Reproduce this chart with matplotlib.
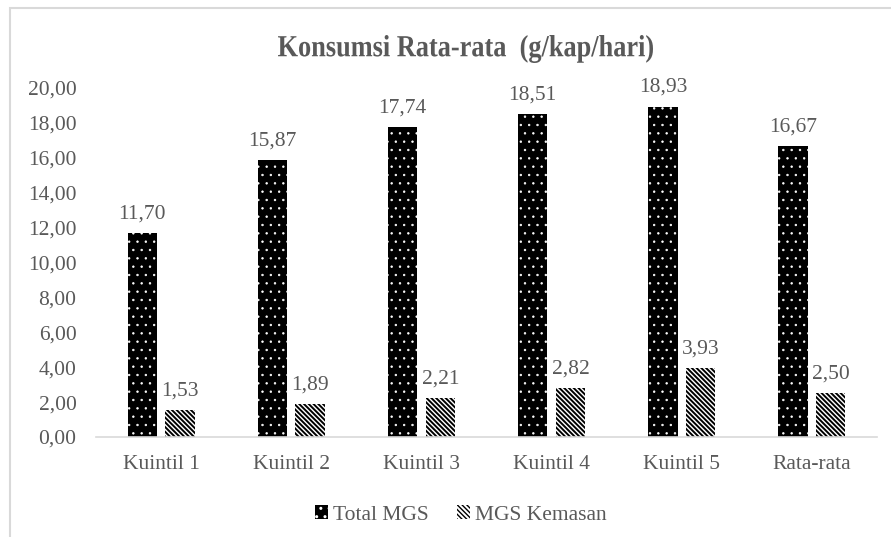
import matplotlib
matplotlib.use("Agg")
import matplotlib.pyplot as plt
from matplotlib.patches import Rectangle, PathPatch
from matplotlib.textpath import TextPath
from matplotlib.font_manager import FontProperties
from matplotlib.transforms import Affine2D, IdentityTransform
import numpy as np

# Average consumption per quintile (g/kap/hari)
categories = ["Kuintil 1", "Kuintil 2", "Kuintil 3", "Kuintil 4", "Kuintil 5", "Rata-rata"]
total_mgs = [11.70, 15.87, 17.74, 18.51, 18.93, 16.67]
mgs_kemasan = [1.53, 1.89, 2.21, 2.82, 3.93, 2.50]
y_ticks = [0, 2, 4, 6, 8, 10, 12, 14, 16, 18, 20]
title = "Konsumsi Rata-rata  (g/kap/hari)"

plt.rcParams["font.family"] = ["Liberation Serif", "DejaVu Serif"]
text_color = "#595959"
fs = 15.5

W, H = 891, 537
fig = plt.figure(figsize=(W / 100, H / 100), dpi=100)
fig.patch.set_facecolor("white")

# chart frame
fig.patches.append(Rectangle((10 / W, -0.05), 1.2, 1 - 8 / H + 0.05,
                             transform=fig.transFigure, fill=False,
                             edgecolor="#d9d9d9", linewidth=1.5, zorder=0))

ax = fig.add_axes([96 / W, 1 - 437 / H, 781 / W, 349 / H])
x = np.arange(len(categories))
w = 0.225
off = 0.145

with plt.rc_context({"hatch.linewidth": 0.5}):
    bars_total = ax.bar(x - off, total_mgs, width=w, facecolor="black",
                        edgecolor="white", linewidth=0, hatch="..",
                        label="Total MGS")
with plt.rc_context({"hatch.linewidth": 1.4}):
    bars_kem = ax.bar(x + off, mgs_kemasan, width=w, facecolor="white",
                      edgecolor="black", linewidth=0, hatch="\\" * 7,
                      label="MGS Kemasan")
for b in bars_total:
    if hasattr(b, "set_hatch_linewidth"):
        b.set_hatch_linewidth(0.5)
for b in bars_kem:
    if hasattr(b, "set_hatch_linewidth"):
        b.set_hatch_linewidth(1.4)

def fmt(v):
    return f"{v:.2f}".replace(".", ",")

for bars, vals in ((bars_total, total_mgs), (bars_kem, mgs_kemasan)):
    for b, v in zip(bars, vals):
        ax.annotate(fmt(v), (b.get_x() + b.get_width() / 2, v), xytext=(0, 7),
                    textcoords="offset points", ha="center", va="bottom",
                    fontsize=fs, color=text_color, annotation_clip=False)

ax.set_xlim(-0.5, len(categories) - 0.5)
ax.set_ylim(0, 20)
ax.set_yticks(y_ticks)
ax.set_yticklabels([fmt(t) for t in y_ticks], fontsize=fs, color=text_color)
ax.set_xticks(x)
ax.set_xticklabels(categories, fontsize=fs, color=text_color)
ax.tick_params(axis="both", length=0)
ax.tick_params(axis="y", pad=14)
ax.tick_params(axis="x", pad=13)
for s in ["top", "right", "left"]:
    ax.spines[s].set_visible(False)
ax.spines["bottom"].set_color("#d9d9d9")
ax.spines["bottom"].set_linewidth(1.2)

# condensed bold title, fitted into its box in pixel space
tp = TextPath((0, 0), title, size=100,
              prop=FontProperties(family="Liberation Serif", weight="bold"))
ext = tp.get_extents()
x0, x1, ytop, ybot = 278, 653, 35, 63
sx = (x1 - x0) / ext.width
sy = (ybot - ytop) / ext.height
tr = (Affine2D().translate(-ext.x0, -ext.y0).scale(sx, sy)
      .translate(x0, H - ybot) + IdentityTransform())
fig.patches.append(PathPatch(tp, transform=tr, facecolor=text_color,
                             edgecolor="none"))

leg = fig.legend(handles=[bars_total, bars_kem], loc="center",
                 bbox_to_anchor=(461 / W, 1 - 515 / H), ncol=2, frameon=False,
                 fontsize=fs, handlelength=0.6, handleheight=0.6,
                 handletextpad=0.25, columnspacing=1.3)
for t in leg.get_texts():
    t.set_color(text_color)

fig.savefig("out.png", dpi=100)
